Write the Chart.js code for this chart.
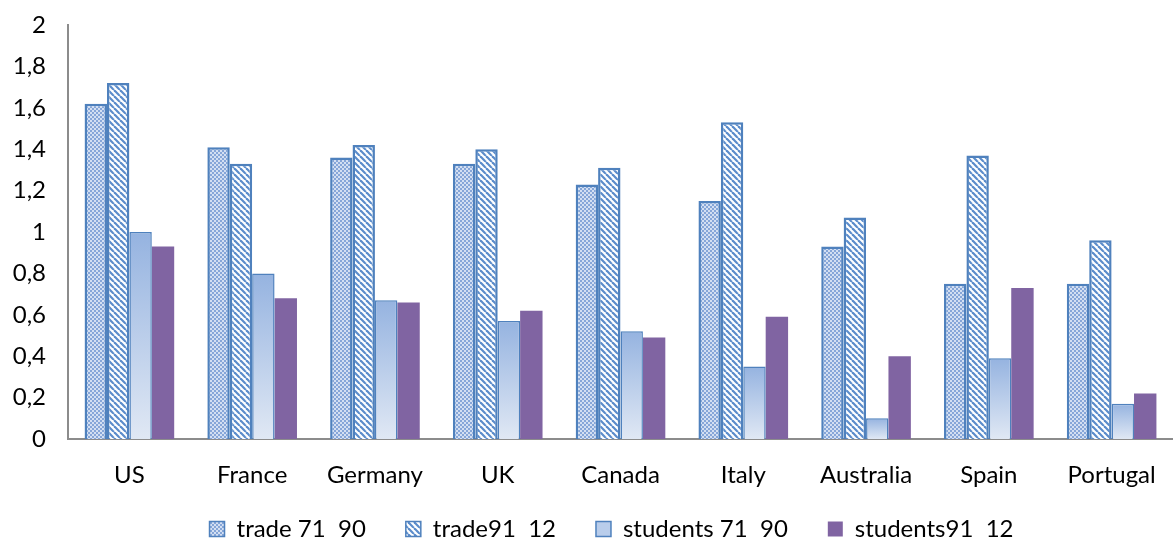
<!DOCTYPE html>
<html>
<head>
<meta charset="utf-8">
<script src="https://cdn.jsdelivr.net/npm/chart.js@4.4.0/dist/chart.umd.min.js"></script>
<style>
  html, body { margin: 0; padding: 0; background: #fff; }
  #wrap { width: 1173px; height: 540px; }
</style>
</head>
<body>
<div id="wrap"><canvas id="chart"></canvas></div>
<script>
// Data
const countries = ['US', 'France', 'Germany', 'UK', 'Canada', 'Italy', 'Australia', 'Spain', 'Portugal'];
const trade7190 = [1.62, 1.41, 1.36, 1.33, 1.23, 1.15, 0.93, 0.75, 0.75];
const trade9112 = [1.72, 1.33, 1.42, 1.40, 1.31, 1.53, 1.07, 1.37, 0.96];
const students7190 = [1.00, 0.80, 0.67, 0.57, 0.52, 0.35, 0.10, 0.39, 0.17];
const students9112 = [0.93, 0.68, 0.66, 0.62, 0.49, 0.59, 0.40, 0.73, 0.22];
const seriesNames = ['trade 71  90', 'trade91  12', 'students 71  90', 'students91  12'];

const FONT = 'Lato, "Open Sans", sans-serif';
const BLUE = '#4f81bd';

// small checker pattern for the first series
function makeChecker(ctx) {
    const c = document.createElement('canvas');
    c.width = 4; c.height = 4;
    const g = c.getContext('2d');
    g.fillStyle = '#d3dff2';
    g.fillRect(0, 0, 4, 4);
    g.fillStyle = '#86a6d8';
    g.fillRect(0, 0, 2, 2);
    g.fillRect(2, 2, 2, 2);
    return ctx.createPattern(c, 'repeat');
}

// diagonal "\" stripes for the second series
function makeStripes(ctx) {
    const c = document.createElement('canvas');
    c.width = 6; c.height = 6;
    const g = c.getContext('2d');
    g.fillStyle = '#ffffff';
    g.fillRect(0, 0, 6, 6);
    g.strokeStyle = '#5b8ccb';
    g.lineWidth = 2.2;
    [-6, 0, 6].forEach(o => {
        g.beginPath();
        g.moveTo(o, 0);
        g.lineTo(o + 6, 6);
        g.stroke();
    });
    return ctx.createPattern(c, 'repeat');
}

const canvas = document.getElementById('chart');
const ctx = canvas.getContext('2d');
const checker = makeChecker(ctx);
const stripes = makeStripes(ctx);

// gradient per bar, darker at the top
function barGradient(context) {
    const chart = context.chart;
    const y = chart.scales && chart.scales.y;
    if (!y || context.type !== 'data' || !chart.chartArea) return '#b9cdeb';
    const top = y.getPixelForValue(context.parsed.y);
    const bottom = y.getPixelForValue(0);
    const grad = chart.ctx.createLinearGradient(0, top, 0, bottom);
    grad.addColorStop(0, '#95b3e0');
    grad.addColorStop(1, '#e0e8f4');
    return grad;
}

const fmt = v => String(Math.round(v * 10) / 10).replace('.', ',');

// legend sits a bit right of centre and tucked under the axis labels
const legendShift = {
    id: 'legendShift',
    afterLayout(chart) {
        const l = chart.legend;
        if (!l) return;
        l.left += 25;
        l.right += 25;
        l.top -= 22;
        l.bottom -= 22;
    }
};

new Chart(ctx, {
    type: 'bar',
    data: {
        labels: countries,
        datasets: [
            {
                label: seriesNames[0],
                data: trade7190,
                backgroundColor: checker,
                borderColor: BLUE,
                borderWidth: 2.5
            },
            {
                label: seriesNames[1],
                data: trade9112,
                backgroundColor: stripes,
                borderColor: BLUE,
                borderWidth: 2.5
            },
            {
                label: seriesNames[2],
                data: students7190,
                backgroundColor: barGradient,
                borderColor: BLUE,
                borderWidth: 1.5
            },
            {
                label: seriesNames[3],
                data: students9112,
                backgroundColor: '#8064a2',
                borderColor: '#8064a2',
                borderWidth: 0
            }
        ]
    },
    plugins: [legendShift],
    options: {
        responsive: true,
        maintainAspectRatio: false,
        animation: false,
        devicePixelRatio: 1,
        layout: {
            padding: { top: 25, right: 0, left: 0, bottom: -33 }
        },
        datasets: {
            bar: {
                categoryPercentage: 0.73,
                barPercentage: 1.0,
                borderSkipped: 'bottom'
            }
        },
        plugins: {
            legend: {
                position: 'bottom',
                labels: {
                    font: { family: FONT, size: 24 },
                    color: '#000',
                    boxWidth: 15,
                    boxHeight: 15,
                    padding: 40,
                    generateLabels: (chart) => {
                        const items = Chart.defaults.plugins.legend.labels.generateLabels(chart);
                        items.forEach((it, i) => {
                            it.lineWidth = i < 3 ? 1.5 : 0;
                            if (i === 2) it.fillStyle = '#b9cdeb';
                        });
                        return items;
                    }
                }
            },
            tooltip: { enabled: false }
        },
        scales: {
            x: {
                grid: { display: false },
                border: { display: true, color: '#8c8c8c', width: 2 },
                afterFit: (scale) => { scale.height = 60; },
                ticks: {
                    font: { family: FONT, size: 24 },
                    color: '#000',
                    padding: 14
                }
            },
            y: {
                min: 0,
                max: 2,
                grid: { display: false },
                border: { display: true, color: '#8c8c8c', width: 2 },
                afterFit: (scale) => {
                    scale.width = 68;
                    scale.paddingTop = 0;
                },
                ticks: {
                    stepSize: 0.2,
                    font: { family: FONT, size: 24 },
                    color: '#000',
                    padding: 14,
                    callback: (v) => fmt(v)
                }
            }
        }
    }
});
</script>
</body>
</html>
